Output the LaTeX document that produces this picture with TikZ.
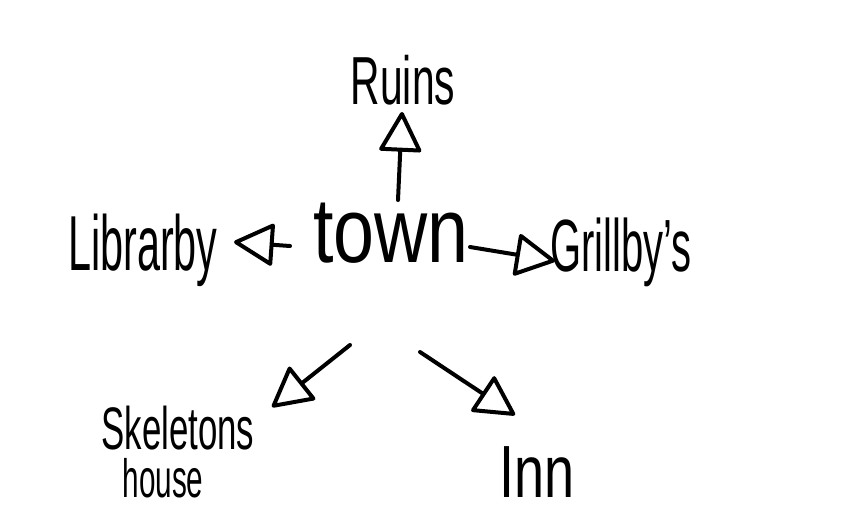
\documentclass[tikz,border=0pt]{standalone}
\usepackage{fontspec}
\setmainfont{Liberation Sans}
\usetikzlibrary{arrows.meta}
\begin{document}
\begin{tikzpicture}[x=1pt,y=-1pt,
  lbl/.style={inner sep=0pt, anchor=center, text=black},
  conn/.style={line width=4pt, line cap=round, line join=round,
    -{Triangle[open,length=42pt,width=44pt,round]}},
]
\useasboundingbox (0,0) rectangle (854,512);
\fill[white] (0,0) rectangle (854,512);
% labels
\node[lbl, xscale=0.6, font=\fontsize{68}{68}\selectfont] (ruins) at (403,80) {Ruins};
\node[lbl, xscale=0.8, font=\fontsize{92}{92}\selectfont] (town) at (391,233) {town};
\node[lbl, xscale=0.53, font=\fontsize{78}{78}\selectfont] (library) at (143,250) {Librarby};
\node[lbl, xscale=0.54, font=\fontsize{74}{74}\selectfont] (grillby) at (621,252) {Grillby's};
\node[lbl, xscale=0.58, font=\fontsize{60}{60}\selectfont] (skel) at (178,428) {Skeletons};
\node[lbl, xscale=0.55, font=\fontsize{54}{54}\selectfont, anchor=base] (house) at (163,497) {house};
\node[lbl, xscale=0.73, font=\fontsize{74}{74}\selectfont] (inn) at (537,472) {Inn};
% connector ends
\coordinate (r0) at (398,200);
\coordinate (r1) at (402,112);
\coordinate (l0) at (290,246);
\coordinate (l1) at (234,242);
\coordinate (g0) at (470,247);
\coordinate (g1) at (555,261);
\coordinate (s0) at (350,345);
\coordinate (s1) at (272,407);
\coordinate (i0) at (420,352);
\coordinate (i1) at (515,415);
\draw[conn] (r0) -- (r1);
\draw[conn] (l0) -- (l1);
\draw[conn] (g0) -- (g1);
\draw[conn] (s0) -- (s1);
\draw[conn] (i0) -- (i1);
\end{tikzpicture}
\end{document}
